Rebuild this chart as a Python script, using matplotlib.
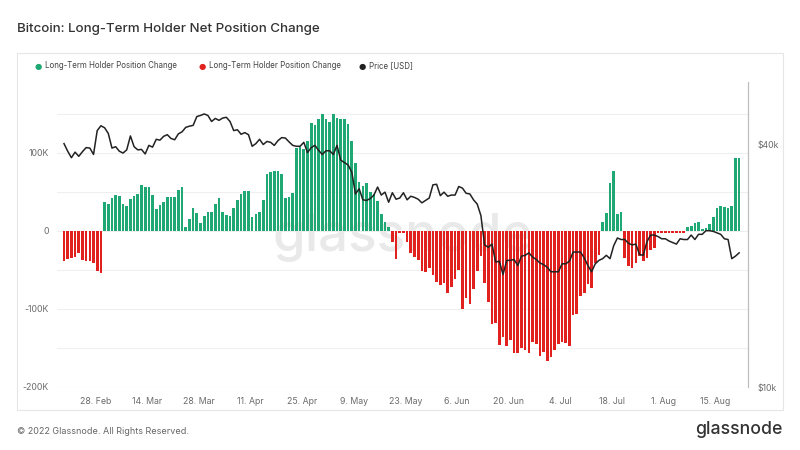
import pandas as pd
import matplotlib.pyplot as plt
from matplotlib.patches import Rectangle

# daily LTH net position change, thousands of BTC (19 Feb .. 21 Aug 2022)
lth_change = [
    -38, -36, -34, -33, -28, -37, -38, -38, -41, -51, -54,
    37, 34, 42, 46, 45, 34.5, 32.5, 40.5, 45, 47, 59.5, 56, 56.5, 46.5, 28, 33, 37, 43, 43,
    43, 52, 56.5, 5.5, 15.5, 30, 23, 10, 19, 24, 24.6, 35, 42.5, 24.6, 20.4, 19.5, 29.7, 40.3,
    48, 51, 51, 17.4, 22, 23.8, 39.5, 72.6, 75.6, 77.3, 77.3, 73.5, 42, 44, 49,
    107, 108, 105, 115, 139, 136, 144, 150, 143, 140, 150, 145, 143.5, 143.5, 137, 115,
    87, 63, 58, 62, 50, 47, 38, 22, 12, 4.5,
    -13.6, -36, -3, -2, -13.6, -28.5, -33.5, -37.8, -51.8, -53, -47.6, -56, -65.8, -68.8,
    -66.7, -79.4, -71.8, -61.6, -50.5, -100.6, -85.8, -93, -75, -51.8, -32.7, -66.7, -91,
    -119.7, -118.5, -146, -136, -147, -140, -156, -156, -150, -152, -156, -142, -145, -160,
    -155, -166.5, -161, -153, -145, -142, -143, -148, -108, -106, -83.7, -79, -68, -73.5,
    -41.2, -31,
    12, 22.5, 61, 77, 22, 24,
    -35, -44.6, -47.6, -41.2, -32.7, -39, -34.8, -24.2, -22,
    -2, -2, -2, -2, -2, -2, -2, -2,
    4.7, 6.4, 10.6, 11.9, 2.1, 3.4, 8.9, 17.4, 28.9, 31.8, 31, 28.9, 32.3, 93.8, 93.8,
]

# BTC price, USD
price = [
    40100, 38400, 37000, 38200, 37300, 38300, 39200, 39100, 37700, 43200,
    44400, 43900, 42500, 39100, 39400, 38400, 38000, 38700, 41900, 39400,
    38700, 38800, 37800, 39700, 39300, 41100, 40900, 41800, 42200, 41300,
    41000, 42400, 42900, 44000, 44300, 44500, 46800, 47100, 47500, 47100,
    45500, 46300, 45800, 46400, 46600, 45500, 43200, 43400, 42300, 42700,
    42200, 39500, 40100, 41100, 39900, 40600, 40400, 39700, 40800, 41500,
    41400, 40500, 39700, 39500, 39500, 40400, 38100, 39200, 39700, 38600,
    37700, 38500, 38500, 37700, 39700, 36500, 36000, 35500, 34100, 30100,
    31000, 29100, 29000, 29300, 29900, 31300, 29900, 30400, 28700, 30300,
    29200, 29400, 30300, 29100, 29700, 29500, 29200, 28600, 29000, 29400,
    31700, 31800, 29800, 30400, 29700, 29900, 29900, 31400, 31100, 30200,
    30100, 29100, 28400, 26600, 22500, 22200, 22600, 20400, 20500, 19000,
    20600, 20600, 20700, 20000, 21100, 21200, 21500, 21000, 20700, 20300,
    20100, 19800, 19300, 19300, 19300, 20200, 20200, 20500, 21600, 21600,
    21600, 20900, 20000, 19300, 20200, 20600, 20800, 21200, 20800, 22400,
    23400, 23200, 23200, 22700, 22500, 22600, 21300, 21200, 22900, 23800,
    23800, 23600, 23300, 23300, 23000, 22800, 22600, 23300, 23200, 23200,
    23800, 23200, 23900, 23900, 24400, 24400, 24300, 24100, 23900, 23300,
    23200, 20800, 21100, 21500,
]

tick_dates = ['2022-02-28', '2022-03-14', '2022-03-28', '2022-04-11', '2022-04-25',
              '2022-05-09', '2022-05-23', '2022-06-06', '2022-06-20', '2022-07-04',
              '2022-07-18', '2022-08-01', '2022-08-15']
tick_labels = ['28. Feb', '14. Mar', '28. Mar', '11. Apr', '25. Apr', '9. May', '23. May',
               '6. Jun', '20. Jun', '4. Jul', '18. Jul', '1. Aug', '15. Aug']

GREEN = '#1fa874'
RED = '#e0211d'
GREY = '#6b6b6b'

plt.rcParams['font.family'] = ['Inter', 'DejaVu Sans']

dates = pd.date_range('2022-02-19', periods=len(lth_change), freq='D') + pd.Timedelta(hours=11)
colors = [GREEN if v > 0 else RED for v in lth_change]

fig = plt.figure(figsize=(8, 4.5), dpi=100)
fig.patch.set_facecolor('white')

# panel frame
fig.add_artist(Rectangle((17 / 800, 1 - 410 / 450), 766 / 800, 357 / 450,
                         transform=fig.transFigure, fill=False, ec='#e6e6e6', lw=0.8))

ax = fig.add_axes([57 / 800, 1 - 387 / 450, 691 / 800, 305 / 450])
ax.bar(dates, lth_change, width=0.72, color=colors, linewidth=0, zorder=2)
ax.set_ylim(-200, 191)
ax.set_yticks([-200, -100, 0, 100])
ax.set_yticklabels(['-200K', '-100K', '0', '100K'])
for g in [-150, -100, -50, 0, 50, 100, 150]:
    ax.axhline(g, color='#efefef', lw=0.8, zorder=0)
ax.axhline(-200, color='#e3e3e3', lw=0.8, zorder=0)

x0 = pd.Timestamp('2022-02-19') + pd.Timedelta(hours=11)
ax.set_xlim(x0 - pd.Timedelta(days=1.9), x0 + pd.Timedelta(days=185.4))
ax.set_xticks(pd.to_datetime(tick_dates))
ax.set_xticklabels(tick_labels)

for s in ['top', 'left', 'bottom']:
    ax.spines[s].set_visible(False)
ax.spines['right'].set_color('#bdbdbd')
ax.spines['right'].set_linewidth(0.8)
ax.tick_params(axis='both', length=0, colors=GREY, labelsize=6.3)
ax.tick_params(axis='x', pad=7)
ax.tick_params(axis='y', pad=6)

# watermark
ax.text(0.5, 0.49, 'glassnode', transform=ax.transAxes, ha='center', va='center',
        fontsize=38, color='#e9e9e9', fontweight='medium', zorder=1)

ax2 = ax.twinx()
ax2.plot(dates, price, color='#222222', lw=1.1, zorder=3)
ax2.set_yscale('log')
ax2.set_ylim(10000, 57000)
ax2.set_yticks([10000, 40000])
ax2.set_yticklabels(['$10k', '$40k'])
ax2.minorticks_off()
for s in ['top', 'left', 'bottom']:
    ax2.spines[s].set_visible(False)
ax2.spines['right'].set_color('#bdbdbd')
ax2.spines['right'].set_linewidth(0.8)
ax2.tick_params(axis='y', length=0, colors=GREY, labelsize=6.3, pad=7)

# title and legend
fig.text(17 / 800, 1 - 29 / 450, 'Bitcoin: Long-Term Holder Net Position Change',
         fontsize=9.6, color='#333333', va='center', fontweight='medium')
legend_items = [(38, GREEN, 'Long-Term Holder Position Change'),
                (202, RED, 'Long-Term Holder Position Change'),
                (362, '#222222', 'Price [USD]')]
for x, c, label in legend_items:
    fig.text(x / 800, 1 - 66 / 450, '●', color=c, fontsize=6, ha='center', va='center',
             family='DejaVu Sans')
    fig.text((x + 7) / 800, 1 - 66 / 450, label, color='#444444', fontsize=5.7, va='center')

# footer
fig.text(17 / 800, 1 - 431 / 450, '© 2022 Glassnode. All Rights Reserved.',
         fontsize=6.5, color='#666666', va='center')
fig.text(782 / 800, 1 - 430 / 450, 'glassnode', fontsize=12.7, color='#333333',
         ha='right', va='center', fontweight='medium')

fig.savefig('out.png', dpi=100, facecolor='white')
